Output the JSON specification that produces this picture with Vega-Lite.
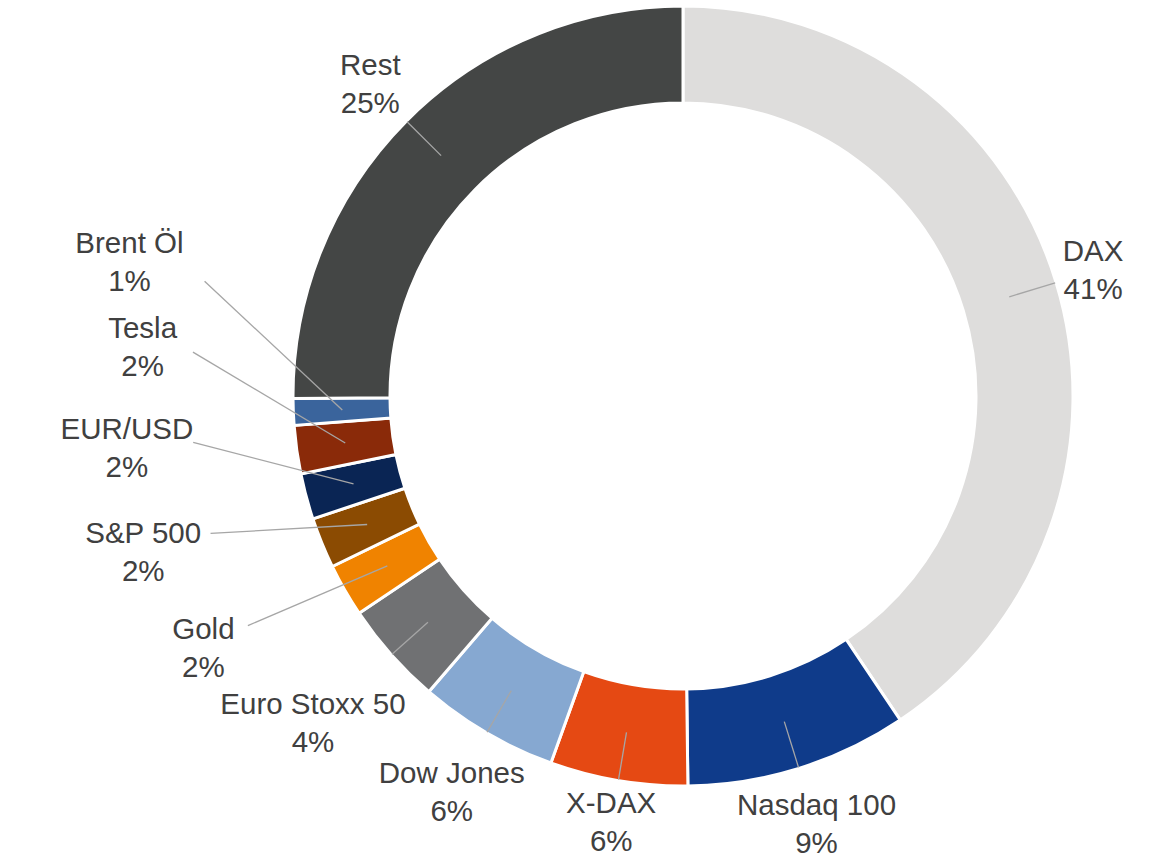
{
  "$schema": "https://vega.github.io/schema/vega-lite/v6.json",
  "width": 790,
  "height": 790,
  "autosize": {"type": "none"},
  "padding": {"left": 288, "top": 1, "right": 71, "bottom": 74},
  "background": "white",
  "config": {"view": {"stroke": null}},
  "data": {
    "values": [
      {"name": "DAX", "value": 40.6},
      {"name": "Nasdaq 100", "value": 9.2},
      {"name": "X-DAX", "value": 5.7},
      {"name": "Dow Jones", "value": 5.8},
      {"name": "Euro Stoxx 50", "value": 4.3},
      {"name": "Gold", "value": 2.2},
      {"name": "S&P 500", "value": 2.1},
      {"name": "EUR/USD", "value": 1.9},
      {"name": "Tesla", "value": 2.0},
      {"name": "Brent Öl", "value": 1.1},
      {"name": "Rest", "value": 25.1}
    ]
  },
  "transform": [
    {"joinaggregate": [{"op": "sum", "field": "value", "as": "total"}]},
    {"window": [{"op": "sum", "field": "value", "as": "cum"}], "frame": [null, 0]},
    {"calculate": "2*PI*(datum.cum - datum.value)/datum.total", "as": "t0"},
    {"calculate": "2*PI*datum.cum/datum.total", "as": "t1"},
    {"calculate": "(datum.t0 + datum.t1)/2", "as": "mid"},
    {"calculate": "datum.value < 3 ? 500 : 397", "as": "base"},
    {"calculate": "datum.value < 3 ? (236*PI/180) + 1.5*(datum.mid - 236*PI/180) : datum.mid", "as": "lt"},
    {"calculate": "datum.base + length(datum.name)*8*abs(sin(datum.lt)) + 30*abs(cos(datum.lt))", "as": "lr"},
    {"calculate": "datum.lr*sin(datum.lt)", "as": "lx"},
    {"calculate": "datum.lr*cos(datum.lt)", "as": "ly"},
    {"calculate": "341*sin(datum.mid)", "as": "ax"},
    {"calculate": "341*cos(datum.mid)", "as": "ay"},
    {"calculate": "(datum.base - 8)*sin(datum.lt)", "as": "bx"},
    {"calculate": "(datum.base - 8)*cos(datum.lt)", "as": "by"},
    {"calculate": "datum.name + '\\n' + format(datum.value, '.0f') + '%'", "as": "label"}
  ],
  "layer": [
    {
      "mark": {"type": "arc", "outerRadius": 390, "innerRadius": 293, "stroke": "white", "strokeWidth": 3},
      "encoding": {
        "theta": {"field": "t0", "type": "quantitative", "scale": null},
        "theta2": {"field": "t1"},
        "color": {
          "field": "name",
          "type": "nominal",
          "legend": null,
          "scale": {
            "domain": ["DAX", "Nasdaq 100", "X-DAX", "Dow Jones", "Euro Stoxx 50", "Gold", "S&P 500", "EUR/USD", "Tesla", "Brent Öl", "Rest"],
            "range": ["#dedddc", "#0f3b8a", "#e54913", "#86a8d1", "#707173", "#f08300", "#8b4b02", "#0a2554", "#8a2a09", "#3a649c", "#444645"]
          }
        }
      }
    },
    {
      "mark": {"type": "rule", "color": "#a6a6a6", "strokeWidth": 1.3},
      "encoding": {
        "x": {"field": "ax", "type": "quantitative", "scale": {"domain": [-395, 395], "nice": false}, "axis": null},
        "y": {"field": "ay", "type": "quantitative", "scale": {"domain": [-395, 395], "nice": false}, "axis": null},
        "x2": {"field": "bx"},
        "y2": {"field": "by"}
      }
    },
    {
      "mark": {"type": "text", "font": "Liberation Sans", "fontSize": 29.5, "lineHeight": 38, "lineBreak": "\n", "color": "#404040", "align": "center", "baseline": "middle", "dy": -19},
      "encoding": {
        "x": {"field": "lx", "type": "quantitative", "scale": {"domain": [-395, 395], "nice": false}, "axis": null},
        "y": {"field": "ly", "type": "quantitative", "scale": {"domain": [-395, 395], "nice": false}, "axis": null},
        "text": {"field": "label"}
      }
    }
  ]
}
